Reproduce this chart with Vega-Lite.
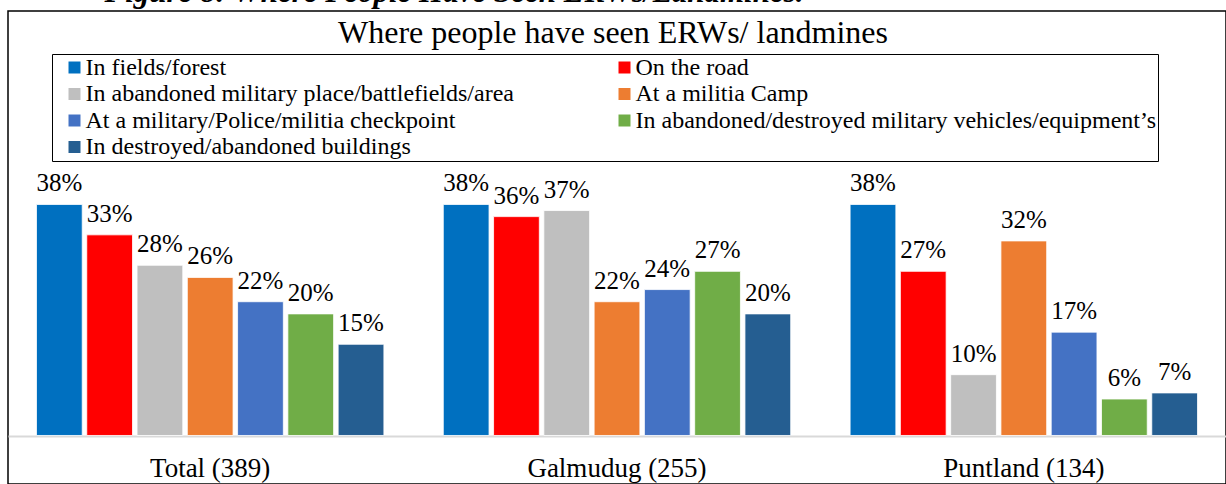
{
  "$schema": "https://vega.github.io/schema/vega-lite/v6.json",
  "autosize": {"type": "none"},
  "padding": {"left": 8, "top": 11, "right": 0, "bottom": 0},
  "width": 1218,
  "height": 473,
  "background": "white",
  "config": {
    "font": "Liberation Serif",
    "view": {"stroke": "black", "strokeWidth": 1.5},
    "axis": {"labelFont": "Liberation Serif", "titleFont": "Liberation Serif"}
  },
  "title": {
    "text": "Where people have seen ERWs/ landmines",
    "font": "Liberation Serif",
    "fontSize": 32,
    "fontWeight": "normal",
    "color": "black",
    "anchor": "middle",
    "frame": "group",
    "offset": -74,
    "dx": -4
  },
  "data": {
    "values": [
      {"region": "Total (389)", "category": "In fields/forest", "pct": 0.38},
      {"region": "Total (389)", "category": "On the road", "pct": 0.33},
      {"region": "Total (389)", "category": "In abandoned military place/battlefields/area", "pct": 0.28},
      {"region": "Total (389)", "category": "At a militia Camp", "pct": 0.26},
      {"region": "Total (389)", "category": "At a military/Police/militia checkpoint", "pct": 0.22},
      {"region": "Total (389)", "category": "In abandoned/destroyed military vehicles/equipment’s", "pct": 0.20},
      {"region": "Total (389)", "category": "In destroyed/abandoned buildings", "pct": 0.15},
      {"region": "Galmudug (255)", "category": "In fields/forest", "pct": 0.38},
      {"region": "Galmudug (255)", "category": "On the road", "pct": 0.36},
      {"region": "Galmudug (255)", "category": "In abandoned military place/battlefields/area", "pct": 0.37},
      {"region": "Galmudug (255)", "category": "At a militia Camp", "pct": 0.22},
      {"region": "Galmudug (255)", "category": "At a military/Police/militia checkpoint", "pct": 0.24},
      {"region": "Galmudug (255)", "category": "In abandoned/destroyed military vehicles/equipment’s", "pct": 0.27},
      {"region": "Galmudug (255)", "category": "In destroyed/abandoned buildings", "pct": 0.20},
      {"region": "Puntland (134)", "category": "In fields/forest", "pct": 0.38},
      {"region": "Puntland (134)", "category": "On the road", "pct": 0.27},
      {"region": "Puntland (134)", "category": "In abandoned military place/battlefields/area", "pct": 0.10},
      {"region": "Puntland (134)", "category": "At a militia Camp", "pct": 0.32},
      {"region": "Puntland (134)", "category": "At a military/Police/militia checkpoint", "pct": 0.17},
      {"region": "Puntland (134)", "category": "In abandoned/destroyed military vehicles/equipment’s", "pct": 0.06},
      {"region": "Puntland (134)", "category": "In destroyed/abandoned buildings", "pct": 0.07}
    ]
  },
  "encoding": {
    "x": {
      "field": "region",
      "type": "nominal",
      "sort": ["Total (389)", "Galmudug (255)", "Puntland (134)"],
      "scale": {"paddingInner": 0.146, "paddingOuter": 0.07},
      "axis": {
        "title": null,
        "labelAngle": 0,
        "labelFontSize": 27,
        "labelColor": "black",
        "labelBaseline": "alphabetic",
        "labelPadding": 40,
        "ticks": false,
        "tickSize": 0,
        "offset": -48,
        "domainColor": "#D9D9D9",
        "domainWidth": 2,
        "grid": false
      }
    },
    "xOffset": {
      "field": "category",
      "type": "nominal",
      "sort": [
        "In fields/forest",
        "On the road",
        "In abandoned military place/battlefields/area",
        "At a militia Camp",
        "At a military/Police/militia checkpoint",
        "In abandoned/destroyed military vehicles/equipment’s",
        "In destroyed/abandoned buildings"
      ],
      "scale": {"paddingInner": 0.09, "paddingOuter": 0}
    },
    "y": {
      "field": "pct",
      "type": "quantitative",
      "scale": {"domain": [-0.0798, 0.6982], "nice": false, "zero": false},
      "axis": {
        "title": "Figure 8: Where People Have Seen ERWs/Landmines.",
        "titleAngle": 0,
        "titleX": 96,
        "titleY": -10,
        "titleAlign": "left",
        "titleBaseline": "alphabetic",
        "titleFontSize": 31,
        "titleFontWeight": "bold",
        "titleFontStyle": "italic",
        "titleColor": "black",
        "labels": false,
        "ticks": false,
        "domain": false,
        "grid": false
      }
    }
  },
  "layer": [
    {
      "mark": {"type": "bar", "stroke": "white", "strokeWidth": 0.8},
      "encoding": {
        "y2": {"datum": 0},
        "color": {
          "field": "category",
          "type": "nominal",
          "scale": {
            "domain": [
              "In fields/forest",
              "On the road",
              "In abandoned military place/battlefields/area",
              "At a militia Camp",
              "At a military/Police/militia checkpoint",
              "In abandoned/destroyed military vehicles/equipment’s",
              "In destroyed/abandoned buildings"
            ],
            "range": ["#0070C0", "#FF0000", "#BFBFBF", "#ED7D31", "#4472C4", "#70AD47", "#255E91"]
          },
          "legend": {
            "title": null,
            "orient": "none",
            "legendX": 44,
            "legendY": 43,
            "columns": 2,
            "direction": "horizontal",
            "strokeColor": "black",
            "fillColor": "white",
            "padding": 1.5,
            "symbolType": "square",
            "symbolSize": 144,
            "symbolStrokeWidth": 0,
            "symbolOffset": 9,
            "labelOffset": -1,
            "labelFont": "Liberation Serif",
            "labelFontSize": 24,
            "labelColor": "black",
            "labelLimit": 0,
            "rowPadding": 2.5,
            "columnPadding": 89
          }
        }
      }
    },
    {
      "mark": {"type": "text", "baseline": "alphabetic", "dy": -13, "fontSize": 25, "color": "black", "font": "Liberation Serif"},
      "encoding": {
        "text": {"field": "pct", "type": "quantitative", "format": ".0%"}
      }
    }
  ]
}
